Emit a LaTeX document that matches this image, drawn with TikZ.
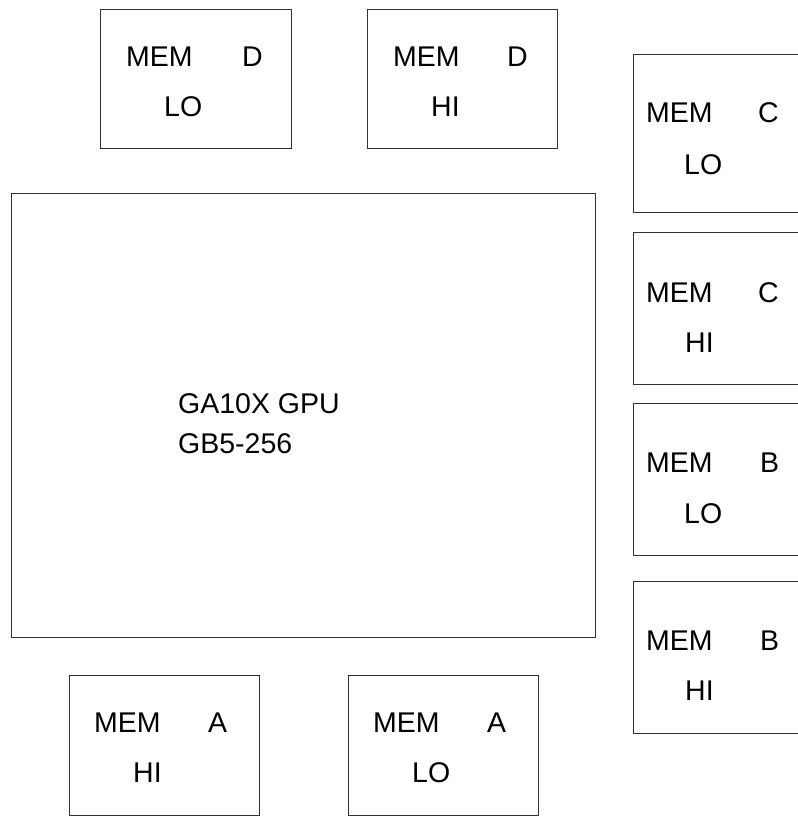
\documentclass[tikz,border=0pt]{standalone}
\usepackage{fontspec}
\setmainfont{Liberation Sans}
\begin{document}
\begin{tikzpicture}[x=1pt,y=-1pt,
  box/.style={draw=black!80, line width=1pt, inner sep=0pt},
  lbl/.style={anchor=base west, inner sep=0pt, font=\fontsize{28.5}{34}\selectfont}]
\useasboundingbox (0,0) rectangle (797,818);
\fill[white] (0,0) rectangle (797,818);
% boxes (x0,y0,x1,y1)
\newcommand{\membox}[5]{\node[box, minimum width={(#4-#2)*1pt}, minimum height={(#5-#3)*1pt}] (#1) at ({(#2+#4)/2},{(#3+#5)/2}) {};}
\membox{dlo}{100}{10}{291}{149}
\membox{dhi}{367}{10}{557}{149}
\membox{clo}{633}{55}{800}{213}
\membox{chi}{633}{232}{800}{384}
\membox{blo}{633}{403}{800}{555}
\membox{bhi}{633}{581}{800}{733}
\membox{gpu}{11}{194}{595}{637}
\membox{ahi}{69}{675}{259}{815}
\membox{alo}{348}{675}{538}{815}
% labels
\node[lbl] (dlo1) at (126,67) {MEM};
\node[lbl] (dlo2) at (242,67) {D};
\node[lbl] (dlo3) at (164,117) {LO};
\node[lbl] (dhi1) at (393,67) {MEM};
\node[lbl] (dhi2) at (507,67) {D};
\node[lbl] (dhi3) at (431,117) {HI};
\node[lbl] (clo1) at (646,123) {MEM};
\node[lbl] (clo2) at (758,123) {C};
\node[lbl] (clo3) at (684,175) {LO};
\node[lbl] (chi1) at (646,302) {MEM};
\node[lbl] (chi2) at (758,302) {C};
\node[lbl] (chi3) at (685,352) {HI};
\node[lbl] (blo1) at (646,472) {MEM};
\node[lbl] (blo2) at (760,472) {B};
\node[lbl] (blo3) at (684,523) {LO};
\node[lbl] (bhi1) at (646,650) {MEM};
\node[lbl] (bhi2) at (760,650) {B};
\node[lbl] (bhi3) at (685,700) {HI};
\node[lbl] (ahi1) at (94,732) {MEM};
\node[lbl] (ahi2) at (208,732) {A};
\node[lbl] (ahi3) at (133,782) {HI};
\node[lbl] (alo1) at (373,732) {MEM};
\node[lbl] (alo2) at (487,732) {A};
\node[lbl] (alo3) at (412,782) {LO};
\node[lbl] (gpu1) at (178,413) {GA10X GPU};
\node[lbl] (gpu2) at (178,453) {GB5-256};
\end{tikzpicture}
\end{document}
